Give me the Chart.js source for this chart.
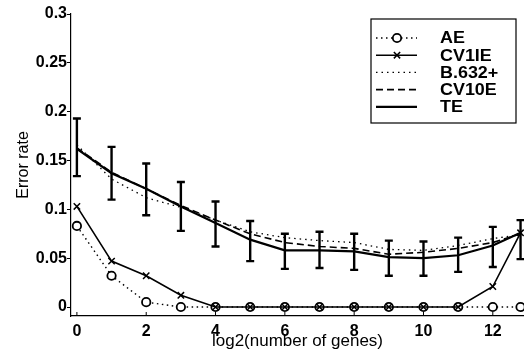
<!DOCTYPE html>
<html>
<head>
<meta charset="utf-8">
<script src="https://cdn.jsdelivr.net/npm/chart.js@4/dist/chart.umd.min.js"></script>
<style>
  html, body { margin: 0; padding: 0; background: #fff; }
  canvas { display: block; }
</style>
</head>
<body>
<canvas id="chart" width="524" height="354"></canvas>
<script>
// ========== DATA ==========
const xValues = [0, 1, 2, 3, 4, 5, 6, 7, 8, 9, 10, 11, 12, 12.8];
const aeValues = [0.083, 0.032, 0.005, 0, 0, 0, 0, 0, 0, 0, 0, 0, 0, 0];
const cv1eValues = [0.103, 0.047, 0.032, 0.012, 0, 0, 0, 0, 0, 0, 0, 0, 0.021, 0.076];
const b632Values = [0.166, 0.131, 0.112, 0.102, 0.089, 0.077, 0.071, 0.068, 0.066, 0.059, 0.058, 0.063, 0.070, 0.074];
const cv10eValues = [0.163, 0.138, 0.121, 0.104, 0.089, 0.075, 0.066, 0.062, 0.060, 0.054, 0.056, 0.060, 0.066, 0.075];
const teValues = [0.162, 0.137, 0.121, 0.103, 0.086, 0.069, 0.058, 0.058, 0.057, 0.051, 0.050, 0.053, 0.063, 0.076];
const teHigh = [0.193, 0.164, 0.147, 0.128, 0.108, 0.088, 0.075, 0.077, 0.075, 0.068, 0.067, 0.071, 0.082, 0.089];
const teLow = [0.134, 0.110, 0.094, 0.078, 0.062, 0.047, 0.039, 0.040, 0.038, 0.032, 0.032, 0.036, 0.041, 0.049];
const xTicks = [0, 2, 4, 6, 8, 10, 12];
const yTicks = [0, 0.05, 0.1, 0.15, 0.2, 0.25, 0.3];
const legendLabels = ["AE", "CV1IE", "B.632+", "CV10E", "TE"];

const FONT = "'Liberation Sans', Arial, Helvetica, sans-serif";
const toPoints = (ys) => xValues.map((x, i) => ({ x, y: ys[i] }));

// ========== PLUGINS ==========
const errorBars = {
  id: "errorBars",
  afterDatasetsDraw(chart) {
    const { ctx, scales } = chart;
    ctx.save();
    ctx.strokeStyle = "#000";
    ctx.lineWidth = 2.4;
    xValues.forEach((x, i) => {
      const px = scales.x.getPixelForValue(x);
      const top = scales.y.getPixelForValue(teHigh[i]);
      const bot = scales.y.getPixelForValue(teLow[i]);
      ctx.beginPath();
      ctx.moveTo(px, top);
      ctx.lineTo(px, bot);
      ctx.moveTo(px - 4, top);
      ctx.lineTo(px + 4, top);
      ctx.moveTo(px - 4, bot);
      ctx.lineTo(px + 4, bot);
      ctx.stroke();
    });
    // inward ticks on the bottom axis
    ctx.lineWidth = 1;
    const yb = chart.chartArea.bottom;
    xTicks.forEach((t) => {
      const px = scales.x.getPixelForValue(t);
      ctx.beginPath();
      ctx.moveTo(px, yb);
      ctx.lineTo(px, yb - 4);
      ctx.stroke();
    });
    ctx.restore();
  },
};

const boxLegend = {
  id: "boxLegend",
  afterDraw(chart) {
    const { ctx } = chart;
    const left = 371, top = 19, width = 145, height = 104;
    ctx.save();
    ctx.fillStyle = "#fff";
    ctx.fillRect(left, top, width, height);
    ctx.strokeStyle = "#000";
    ctx.lineWidth = 1.2;
    ctx.strokeRect(left, top, width, height);
    chart.data.datasets.forEach((ds, i) => {
      const y = 38 + i * 17.2;
      ctx.strokeStyle = "#000";
      ctx.lineWidth = ds.borderWidth;
      ctx.setLineDash(ds.borderDash || []);
      ctx.beginPath();
      ctx.moveTo(376, y);
      ctx.lineTo(417, y);
      ctx.stroke();
      ctx.setLineDash([]);
      if (ds.pointRadius > 0) {
        ctx.lineWidth = ds.pointBorderWidth;
        ctx.beginPath();
        if (ds.pointStyle === "circle") {
          ctx.fillStyle = "#fff";
          ctx.arc(397, y, ds.pointRadius, 0, Math.PI * 2);
          ctx.fill();
          ctx.stroke();
        } else {
          const r = ds.pointRadius * 0.7;
          ctx.moveTo(397 - r, y - r);
          ctx.lineTo(397 + r, y + r);
          ctx.moveTo(397 - r, y + r);
          ctx.lineTo(397 + r, y - r);
          ctx.stroke();
        }
      }
      ctx.fillStyle = "#000";
      ctx.font = "bold 16px " + FONT;
      ctx.textBaseline = "middle";
      ctx.save();
      ctx.translate(440, y + 1);
      ctx.scale(1.12, 1);
      ctx.fillText(legendLabels[i], 0, 0);
      ctx.restore();
    });
    ctx.restore();
  },
};

// ========== CHART ==========
new Chart(document.getElementById("chart"), {
  type: "line",
  data: {
    datasets: [
      {
        label: legendLabels[0],
        data: toPoints(aeValues),
        borderColor: "#000",
        borderWidth: 1.4,
        borderDash: [1.5, 3.5],
        pointStyle: "circle",
        pointRadius: 4.2,
        pointBorderWidth: 1.8,
        pointBorderColor: "#000",
        pointBackgroundColor: "#fff",
        clip: false,
        order: 1,
      },
      {
        label: legendLabels[1],
        data: toPoints(cv1eValues),
        borderColor: "#000",
        borderWidth: 1.6,
        pointStyle: "crossRot",
        pointRadius: 4.5,
        pointBorderWidth: 1.5,
        pointBorderColor: "#000",
        clip: false,
        order: 0,
      },
      {
        label: legendLabels[2],
        data: toPoints(b632Values),
        borderColor: "#000",
        borderWidth: 1.3,
        borderDash: [1.5, 4],
        pointRadius: 0,
        clip: false,
        order: 4,
      },
      {
        label: legendLabels[3],
        data: toPoints(cv10eValues),
        borderColor: "#000",
        borderWidth: 1.6,
        borderDash: [7, 4],
        pointRadius: 0,
        clip: false,
        order: 3,
      },
      {
        label: legendLabels[4],
        data: toPoints(teValues),
        borderColor: "#000",
        borderWidth: 2.2,
        pointRadius: 0,
        clip: false,
        order: 2,
      },
    ],
  },
  options: {
    responsive: false,
    animation: false,
    layout: { autoPadding: false, padding: { top: 14, right: 0, left: 14, bottom: 0 } },
    plugins: { legend: { display: false }, tooltip: { enabled: false } },
    elements: { line: { tension: 0 } },
    scales: {
      x: {
        type: "linear",
        min: -0.17,
        max: 12.9,
        afterBuildTicks: (scale) => {
          scale.ticks = xTicks.map((v) => ({ value: v }));
        },
        afterFit: (scale) => {
          scale.height = 38;
          scale.paddingLeft = 0;
          scale.paddingRight = 0;
        },
        grid: { display: false, drawTicks: false },
        border: { display: true, color: "#000", width: 1.2 },
        ticks: {
          color: "#000",
          padding: 6,
          maxRotation: 0,
          font: { family: FONT, size: 16, weight: "bold" },
        },
        title: {
          display: true,
          text: "log2(number of genes)",
          color: "#000",
          padding: { top: 0, bottom: 2 },
          font: { family: FONT, size: 17 },
        },
      },
      y: {
        min: -0.0092,
        max: 0.3,
        afterBuildTicks: (scale) => {
          scale.ticks = yTicks.map((v) => ({ value: v }));
        },
        afterFit: (scale) => {
          scale.width = 57;
        },
        grid: { display: true, drawOnChartArea: false, tickLength: 4, color: "#000" },
        border: { display: true, color: "#000", width: 1.2 },
        ticks: {
          color: "#000",
          padding: 0,
          font: { family: FONT, size: 16, weight: "bold" },
          callback: (v) => String(Number(v.toFixed(2))),
        },
        title: {
          display: true,
          text: "Error rate",
          color: "#000",
          padding: { top: 0, bottom: 0 },
          font: { family: FONT, size: 16 },
        },
      },
    },
  },
  plugins: [errorBars, boxLegend],
});
</script>
</body>
</html>
